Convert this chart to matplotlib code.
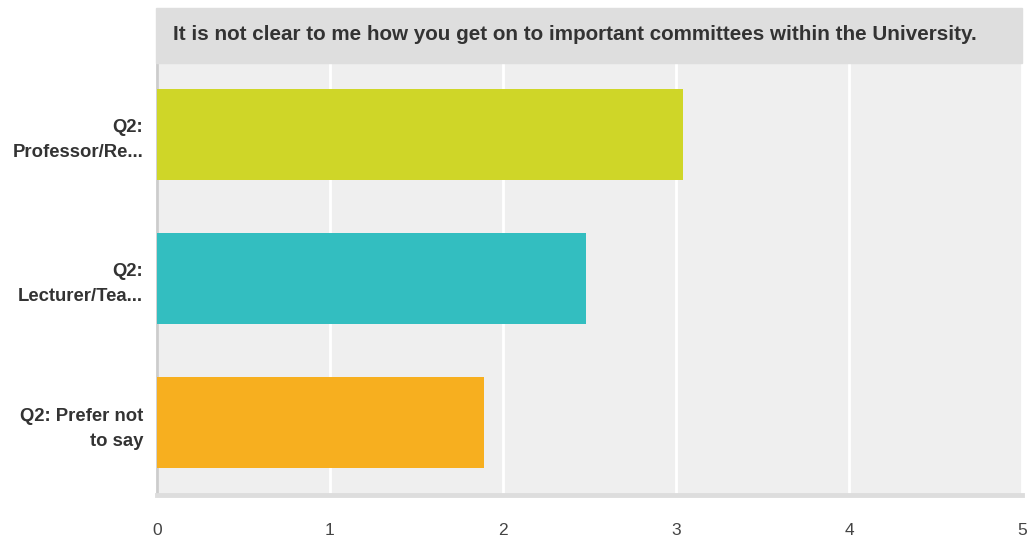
import matplotlib.pyplot as plt
from matplotlib.patches import Rectangle

title = "It is not clear to me how you get on to important committees within the University."
labels = ["Q2:\nProfessor/Re...", "Q2:\nLecturer/Tea...", "Q2: Prefer not\nto say"]
values = [3.04, 2.48, 1.89]
colors = ["#cfd628", "#33bec0", "#f7af1f"]
ticks = [0, 1, 2, 3, 4, 5]

plt.rcParams['font.family'] = ['Liberation Sans', 'DejaVu Sans']

W, H = 1031, 541
fig = plt.figure(figsize=(W / 100, H / 100), dpi=100)
ax = fig.add_axes([157 / W, 1 - 495 / H, (1022 - 157) / W, (495 - 62) / H])
ax.set_facecolor("#efefef")

# title band
fig.patches.append(Rectangle((156 / W, 1 - 62.5 / H), (1022 - 156) / W, 54.5 / H,
                             transform=fig.transFigure, color="#dedede", zorder=0))
fig.text(173 / W, 1 - 35 / H, title, ha="left", va="center", fontsize=14.9,
         fontweight="bold", color="#333333")

pos = list(range(len(labels)))
ax.barh(pos, values, height=0.63, color=colors, zorder=3)
ax.set_ylim(2.5, -0.5)
ax.set_xlim(0, 5)

ax.set_xticks(ticks)
ax.set_xticklabels([str(t) for t in ticks])
ax.set_yticks(pos)
ax.set_yticklabels(labels, fontweight="bold", fontsize=13.3, color="#333333",
                   linespacing=1.6)
ax.tick_params(axis="y", length=0, pad=10)
ax.tick_params(axis="x", length=0, pad=20, labelsize=12.5, labelcolor="#444444")

ax.grid(axis="x", color="white", linewidth=2, zorder=1)
ax.set_axisbelow(True)
for s in ["top", "right"]:
    ax.spines[s].set_visible(False)
ax.spines["left"].set_color("#cccccc")
ax.spines["left"].set_linewidth(2)
ax.spines["bottom"].set_color("#dddddd")
ax.spines["bottom"].set_linewidth(3.5)

fig.savefig("out.png", dpi=100)
